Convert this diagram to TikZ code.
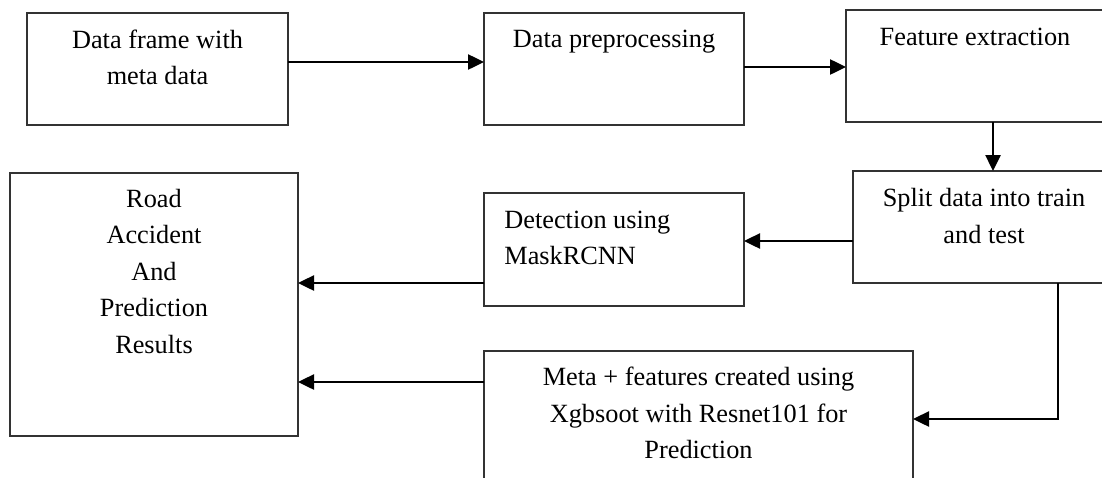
\documentclass[tikz,border=0pt]{standalone}
\usepackage{fontspec}
\setmainfont{Liberation Serif}
\usepackage{tikz}
\usetikzlibrary{arrows.meta,positioning}

\begin{document}
\begin{tikzpicture}[x=0.5pt, y=-0.5pt,
      box/.style={draw=black!80, line width=0.6pt, inner sep=0pt, outer sep=0pt},
      txt/.style={inner sep=0pt, align=center, font=\fontsize{13.15}{18.25}\selectfont},
      arr/.style={line width=1.25pt, -{Triangle[length=8pt,width=7.5pt]}}]
      \useasboundingbox (0, 0) rectangle (1102, 477);
      % boxes
      \node [box, minimum width=130.5pt, minimum height=56pt] (frame) at (157.5, 69) {};
      \node [box, minimum width=130pt, minimum height=56pt] (prep) at (614, 69) {};
      \node [box, minimum width=129pt, minimum height=56pt] (feat) at (975, 66) {};
      \node [box, minimum width=131pt, minimum height=56pt] (split) at (984, 227) {};
      \node [box, minimum width=130pt, minimum height=56.5pt] (detect) at (614, 249.5) {};
      \node [box, minimum width=144pt, minimum height=131.5pt] (result) at (154, 304.5) {};
      \node [box, minimum width=214.5pt, minimum height=74.5pt] (meta) at (698.5, 425.5) {};
      % texts
      \node [txt] (framet) at (157.5, 57.5) {Data frame with\\meta data};
      \node [txt] (prept) at (614, 42) {Data preprocessing};
      \node [txt] (featt) at (975, 37) {Feature extraction};
      \node [txt] (splitt) at (984, 216) {Split data into train\\and test};
      \node [txt, align=left, anchor=west] (detectt) at (504, 238) {Detection using\\MaskRCNN};
      \node [txt] (resultt) at (154, 271) {Road\\Accident\\And\\Prediction\\Results};
      \node [txt] (metat) at (698.5, 413) {Meta + features created using\\Xgbsoot with Resnet101 for\\Prediction};
      % connectors
      \draw [arr] ([yshift=3.5pt]frame.east) -- ([yshift=3.5pt]prep.west);
      \draw [arr] ([yshift=1pt]prep.east) -- ([yshift=1pt]prep.east -| feat.west);
      \draw [arr] ([xshift=9pt]feat.south) -- ([xshift=9pt]feat.south |- split.north);
      \draw [arr] ([yshift=-7pt]split.west) -- ([yshift=-7pt]split.west -| detect.east);
      \draw [arr] ([yshift=-16.75pt]detect.west) -- ([yshift=-16.75pt]detect.west -| result.east);
      \draw [arr] ([yshift=-15.5pt]meta.north west) -- ([yshift=-15.5pt]meta.north west -| result.east);
      \draw [arr] ([xshift=37pt]split.south) |- ([yshift=-34pt]meta.north east);
\end{tikzpicture}
\end{document}
